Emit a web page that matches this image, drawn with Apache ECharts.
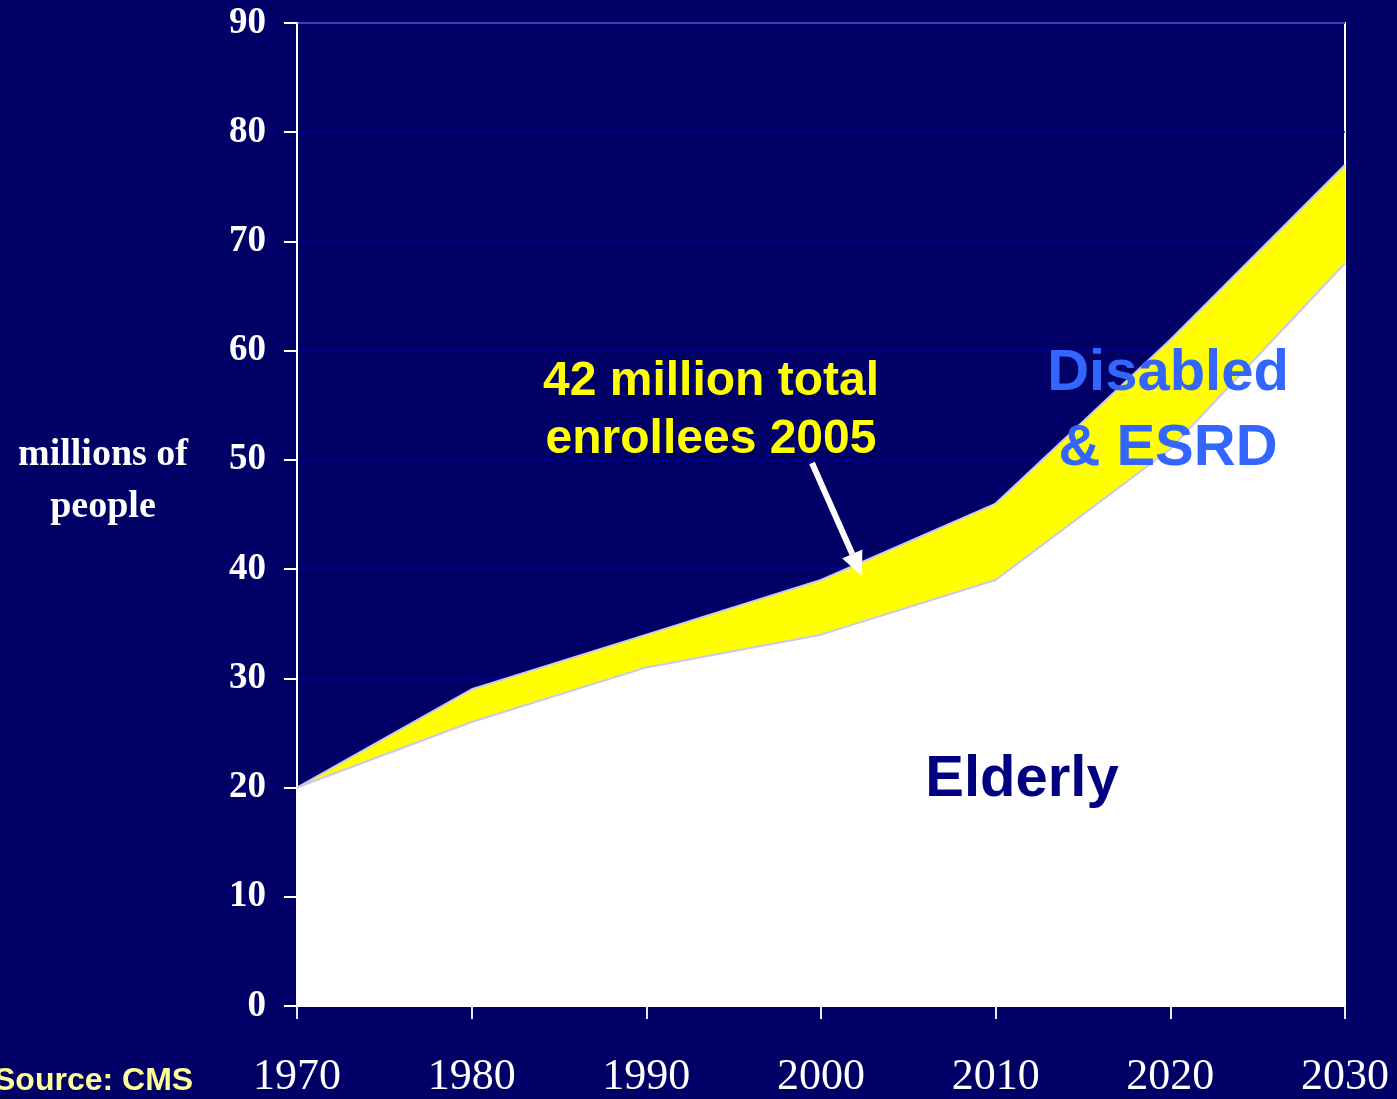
<!DOCTYPE html>
<html>
<head>
<meta charset="utf-8">
<script src="https://cdn.jsdelivr.net/npm/echarts@6/dist/echarts.min.js"></script>
<style>
html,body{margin:0;padding:0;background:#000066;}
#c{width:1397px;height:1099px;}
</style>
</head>
<body>
<div id="c"></div>
<script>
const years = ['1970','1980','1990','2000','2010','2020','2030'];
const totalEnrollees = [20, 29, 34, 39, 46, 61, 77];
const elderly = [20, 26, 31, 34, 39, 51, 68];
const yTicks = [0, 10, 20, 30, 40, 50, 60, 70, 80, 90];

const chart = echarts.init(document.getElementById('c'));
const serif = '"Liberation Serif", "DejaVu Serif", serif';
const sans = '"Liberation Sans", Arial, sans-serif';

// arrow geometry (annotation)
const tail = [812, 463], tip = [862, 576];
const dx = tip[0]-tail[0], dy = tip[1]-tail[1], L = Math.hypot(dx, dy);
const ux = dx/L, uy = dy/L, headLen = 24, headW = 11;
const base = [tip[0]-ux*headLen, tip[1]-uy*headLen];

chart.setOption({
  backgroundColor: '#000066',
  animation: false,
  grid: {left: 297, right: 52, top: 23, bottom: 90, show: true, borderColor: '#ffffff', borderWidth: 2, backgroundColor: 'transparent'},
  xAxis: {
    type: 'category', data: years, boundaryGap: false,
    axisLine: {show: true, lineStyle: {color: '#ffffff', width: 2}},
    axisTick: {show: true, alignWithLabel: true, length: 13, lineStyle: {color: '#e8e8ff', width: 2}},
    axisLabel: {color: '#ffffff', fontFamily: serif, fontSize: 44, margin: 49, fontWeight: 'normal'},
    splitLine: {show: false}
  },
  yAxis: {
    type: 'value', min: yTicks[0], max: yTicks[yTicks.length-1], interval: 10,
    axisLine: {show: true, lineStyle: {color: '#ffffff', width: 2}},
    axisTick: {show: true, inside: false, length: 13, lineStyle: {color: '#ffffff', width: 2}},
    axisLabel: {color: '#ffffff', fontFamily: serif, fontSize: 37, fontWeight: 'bold', margin: 31},
    splitLine: {show: true, lineStyle: {color: '#00009a', width: 1.5}}
  },
  series: [
    {
      name: 'Total', type: 'line', data: totalEnrollees, symbol: 'none', z: 2,
      lineStyle: {color: '#c8c8f0', width: 2},
      areaStyle: {color: '#ffff00', opacity: 1}
    },
    {
      name: 'Elderly', type: 'line', data: elderly, symbol: 'none', z: 3,
      lineStyle: {color: '#c8c8f0', width: 2},
      areaStyle: {color: '#ffffff', opacity: 1}
    }
  ],
  graphic: [
    {type: 'text', z: 10, style: {x: 103, y: 455, text: 'millions of', fill: '#ffffff', font: 'bold 38px ' + serif, align: 'center', verticalAlign: 'middle'}},
    {type: 'text', z: 10, style: {x: 103, y: 507, text: 'people', fill: '#ffffff', font: 'bold 38px ' + serif, align: 'center', verticalAlign: 'middle'}},
    {type: 'text', z: 10, style: {x: 711, y: 382, text: '42 million total', fill: '#ffff00', font: 'bold 48px ' + sans, align: 'center', verticalAlign: 'middle'}},
    {type: 'text', z: 10, style: {x: 711, y: 440, text: 'enrollees 2005', fill: '#ffff00', font: 'bold 48px ' + sans, align: 'center', verticalAlign: 'middle'}},
    {type: 'text', z: 10, style: {x: 1168, y: 374, text: 'Disabled', fill: '#3366ff', font: 'bold 58px ' + sans, align: 'center', verticalAlign: 'middle'}},
    {type: 'text', z: 10, style: {x: 1168, y: 449, text: '& ESRD', fill: '#3366ff', font: 'bold 58px ' + sans, align: 'center', verticalAlign: 'middle'}},
    {type: 'text', z: 10, style: {x: 1022, y: 780, text: 'Elderly', fill: '#000080', font: 'bold 58px ' + sans, align: 'center', verticalAlign: 'middle'}},
    {type: 'text', z: 10, style: {x: -6, y: 1081, text: 'Source: CMS', fill: '#ffff99', font: 'bold 32px ' + sans, align: 'left', verticalAlign: 'middle'}},
    {type: 'line', z: 10, shape: {x1: tail[0], y1: tail[1], x2: base[0], y2: base[1]}, style: {stroke: '#ffffff', lineWidth: 6}},
    {type: 'polygon', z: 10, shape: {points: [tip, [base[0]-uy*headW, base[1]+ux*headW], [base[0]+uy*headW, base[1]-ux*headW]]}, style: {fill: '#ffffff'}}
  ]
});
</script>
</body>
</html>
